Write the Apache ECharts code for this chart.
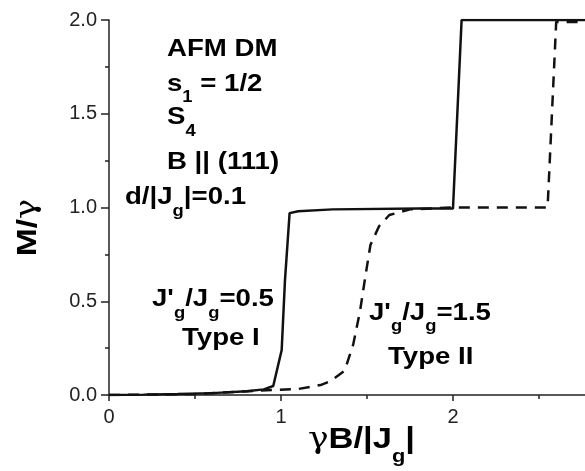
<!DOCTYPE html>
<html>
<head>
<meta charset="utf-8">
<script src="https://cdn.jsdelivr.net/npm/echarts@6/dist/echarts.min.js"></script>
<style>html,body{margin:0;padding:0;background:#fff;}#c{width:585px;height:471px;}</style>
</head>
<body>
<div id="c"></div>
<script>
// Type I (J'g/Jg = 0.5), solid
const typeI_x = [0, 0.2, 0.4, 0.6, 0.8, 0.9, 0.955, 1.004, 1.023, 1.05, 1.1, 1.3, 1.8, 2.0, 2.05, 3.0];
const typeI_y = [0, 0.002, 0.005, 0.01, 0.02, 0.03, 0.048, 0.24, 0.61, 0.97, 0.98, 0.99, 0.995, 0.995, 2.0, 2.0];
// Type II (J'g/Jg = 1.5), dashed
const typeII_x = [0, 0.5, 0.95, 1.1, 1.23, 1.29, 1.37, 1.42, 1.46, 1.49, 1.52, 1.57, 1.63, 1.75, 2.0, 2.55, 2.6, 3.0];
const typeII_y = [0, 0.005, 0.027, 0.032, 0.053, 0.075, 0.13, 0.27, 0.45, 0.63, 0.8, 0.9, 0.96, 0.99, 1.0, 1.0, 1.99, 1.99];
const yTicks = [0, 0.5, 1.0, 1.5, 2.0];
const xTicks = [0, 1, 2];

const pair = (xs, ys) => xs.map((x, i) => [x, ys[i]]);
const FF = 'Liberation Sans, Arial, sans-serif';
const chart = echarts.init(document.getElementById('c'));

const FS = 24;
const SX = 1.15;
function txt(x, cy, str) {
  return {
    type: 'text', x: x, y: cy, scaleX: SX, scaleY: 1,
    style: {
      text: str, x: 0, y: 0, align: 'left', verticalAlign: 'middle',
      rich: {
        b: {fontSize: FS, fontWeight: 'bold', fontFamily: FF, lineHeight: 48, color: '#111'},
        s: {fontSize: 16, fontWeight: 'bold', fontFamily: FF, lineHeight: 16, padding: [30, 0, 2, 0], color: '#111'}
      }
    }
  };
}

chart.setOption({
  animation: false,
  backgroundColor: '#fff',
  grid: {left: 109, width: 516, top: 20, height: 375, outerBoundsMode: 'none', containLabel: false},
  xAxis: {
    type: 'value', min: 0, max: 3, interval: 1,
    axisLine: {show: true, lineStyle: {color: '#222', width: 1.5}},
    axisTick: {show: true, length: 6, inside: false, lineStyle: {color: '#222', width: 1.5}},
    minorTick: {show: true, splitNumber: 2, length: 4, lineStyle: {color: '#222', width: 1.5}},
    splitLine: {show: false},
    axisLabel: {fontSize: 20, color: '#222', fontFamily: FF, margin: 12,
      formatter: v => xTicks.indexOf(v) >= 0 ? String(v) : ''}
  },
  yAxis: {
    type: 'value', min: 0, max: 2, interval: 0.5,
    axisLine: {show: true, lineStyle: {color: '#222', width: 1.5}},
    axisTick: {show: true, length: 8, lineStyle: {color: '#222', width: 1.5}},
    minorTick: {show: true, splitNumber: 2, length: 4, lineStyle: {color: '#222', width: 1.5}},
    splitLine: {show: false},
    axisLabel: {fontSize: 20, color: '#222', fontFamily: FF, margin: 12,
      formatter: v => yTicks.indexOf(v) >= 0 ? v.toFixed(1) : ''}
  },
  series: [
    {type: 'line', data: pair(typeI_x, typeI_y), showSymbol: false, smooth: false,
      lineStyle: {color: '#111', width: 2.5, type: 'solid'}},
    {type: 'line', data: pair(typeII_x, typeII_y), showSymbol: false, smooth: false,
      lineStyle: {color: '#111', width: 2.5, type: [11, 8]}}
  ],
  graphic: [
    txt(167, 49, '{b|AFM DM}'),
    txt(167, 84, '{b|s}{s|1}{b| = 1/2}'),
    txt(167, 117.5, '{b|S}{s|4}'),
    txt(167, 162, '{b|B || (111)}'),
    txt(125, 197.5, '{b|d/|J}{s|g}{b||=0.1}'),
    txt(152, 299.5, "{b|J'}{s|g}{b|/J}{s|g}{b|=0.5}"),
    txt(182, 338, '{b|Type I}'),
    txt(369, 313, "{b|J'}{s|g}{b|/J}{s|g}{b|=1.5}"),
    txt(388, 357.5, '{b|Type II}'),
    {
      type: 'text', x: 308, y: 440, scaleX: 1.15,
      style: {
        text: '{g|γ}{b|B/|J}{s|g}{b||}', x: 0, y: 0, align: 'left', verticalAlign: 'middle',
        rich: {
          g: {fontSize: 30, fontFamily: 'DejaVu Serif, serif', lineHeight: 60, color: '#111'},
          b: {fontSize: 30, fontWeight: 'bold', fontFamily: FF, lineHeight: 60, color: '#111'},
          s: {fontSize: 19, fontWeight: 'bold', fontFamily: FF, lineHeight: 18, padding: [38, 0, 4, 0], color: '#111'}
        }
      }
    },
    {
      type: 'text', x: 28, y: 227.5, rotation: Math.PI / 2, scaleX: 1.2,
      style: {
        text: '{b|M/}{g|γ}', x: 0, y: 0, align: 'center', verticalAlign: 'middle',
        rich: {
          g: {fontSize: 28, fontFamily: 'DejaVu Serif, serif', lineHeight: 36, color: '#111'},
          b: {fontSize: 28, fontWeight: 'bold', fontFamily: FF, lineHeight: 36, color: '#111'}
        }
      }
    }
  ]
});
</script>
</body>
</html>
